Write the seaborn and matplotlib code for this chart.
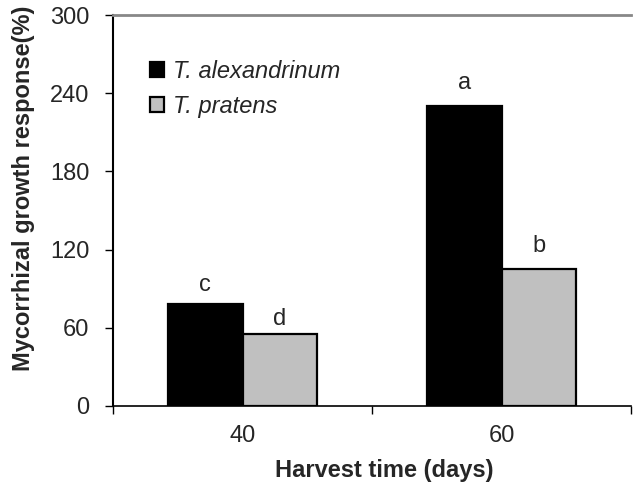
import numpy as np
import pandas as pd
import matplotlib
matplotlib.use("Agg")
import matplotlib.pyplot as plt
import seaborn as sns

# data
harvest_days = ["40", "60"]
species = ["T. alexandrinum", "T. pratens"]
alexandrinum_mgr = [78, 230]
pratens_mgr = [55, 105]
# significance letters and the height (in %) of their baselines
letters_alex = ["c", "a"]
letters_prat = ["d", "b"]
letter_y_alex = [88, 243]
letter_y_prat = [62, 118]

df = pd.DataFrame({
    "day": harvest_days * 2,
    "species": [species[0]] * 2 + [species[1]] * 2,
    "mgr": alexandrinum_mgr + pratens_mgr,
})

sns.set_style("white")
plt.rcParams["font.family"] = ["Liberation Sans", "DejaVu Sans"]

fig = plt.figure(figsize=(6.35, 4.87), dpi=100)
ax = fig.add_axes([113 / 635, 1 - 406 / 487, 518 / 635, 391 / 487])

sns.barplot(data=df, x="day", y="mgr", hue="species", order=harvest_days,
            hue_order=species, palette=["#000000", "#C0C0C0"], width=0.575,
            edgecolor="black", linewidth=1.6, saturation=1, ax=ax)

# letters above the bars
for cont, labs, ys in zip(ax.containers, [letters_alex, letters_prat],
                          [letter_y_alex, letter_y_prat]):
    for bar, lab, yy in zip(cont, labs, ys):
        ax.text(bar.get_x() + bar.get_width() / 2, yy, lab, ha="center",
                va="baseline", fontsize=17)

ax.set_xlim(-0.5, 1.5)
ax.set_ylim(0, 300)
ax.set_yticks(np.arange(0, 301, 60))
ax.set_xticks([0, 1])
ax.set_xticks([-0.5, 0.5, 1.5], minor=True)
ax.tick_params(axis="x", which="major", length=0, pad=14, labelsize=17)
ax.tick_params(axis="x", which="minor", length=6, width=1, direction="out",
               color="black", bottom=True)
ax.tick_params(axis="y", length=6, width=1, direction="out", color="black",
               pad=11, labelsize=17, left=True)

ax.spines["right"].set_visible(False)
ax.spines["left"].set_color("black")
ax.spines["left"].set_linewidth(1.5)
ax.spines["bottom"].set_color("black")
ax.spines["bottom"].set_linewidth(1.2)
ax.spines["top"].set_color("#888888")
ax.spines["top"].set_linewidth(2)

ax.set_xlabel("Harvest time (days)", fontsize=17, fontweight="bold")
ax.set_ylabel("Mycorrhizal growth response(%)", fontsize=17, fontweight="bold")
ax.xaxis.set_label_coords(0.523, -0.135)
ax.yaxis.set_label_coords(-0.151, 0.557)

ax.legend(loc="upper left", bbox_to_anchor=(0.071, 0.885), frameon=False,
          prop={"style": "italic", "size": 17}, handlelength=0.6,
          handleheight=0.6, handletextpad=0.4, labelspacing=0.5,
          borderpad=0, borderaxespad=0)

fig.savefig("out.png", dpi=100)
